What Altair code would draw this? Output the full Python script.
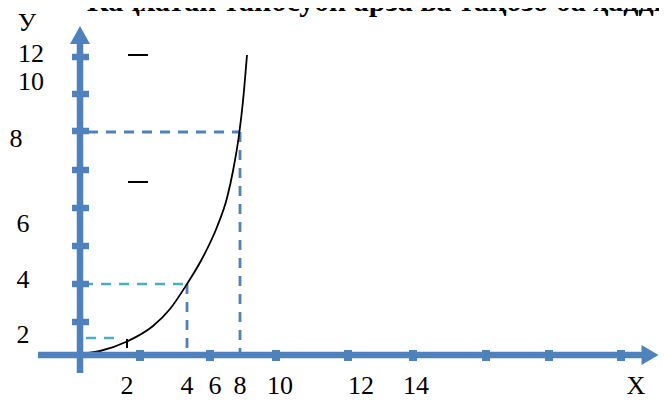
import altair as alt
import pandas as pd

# ---- diagram data (units: px-like offsets from the axis origin) ----
title_text = "Каҷхатаи таносуби арза ва тақозо ба ҳадди ниҳоӣ"

curve_x = [0, 20, 47, 73, 90, 107, 123, 137, 147, 153, 159, 163, 167]
curve_y = [1, 4, 13.5, 29, 46, 71, 98, 128, 157, 184, 220, 254, 300]

ytick_pos = [298, 261, 224, 185, 147, 109, 71, 33]
xtick_pos = [60, 130, 196, 268, 333, 406, 469, 541]

ylab_text = ["12", "10", "8", "6", "4", "2", "У"]
ylab_x = [-49, -49, -64, -57, -57, -57, -53]
ylab_y = [293, 265, 208, 123, 67, 12, 324]

xlab_text = ["2", "4", "6", "8", "10", "12", "14", "X"]
xlab_x = [47, 107, 135, 160, 200, 281, 336, 556]
xlab_y = [-39] * 8

# dashed guides: (x, x2, y, y2)
cyan_x = [6, 3]
cyan_x2 = [35, 107]
cyan_y = [17, 71]

blue_x = [107, 8, 160]
blue_x2 = [107, 160, 160]
blue_y = [71, 223, 223]
blue_y2 = [3, 223, 3]

dash_x = [48, 48, 47]
dash_x2 = [68, 68, 47]
dash_y = [300, 173, 16]
dash_y2 = [300, 173, 7]

BLUE = "#4F81BD"
CYAN = "#4BACC6"
FONT = "Liberation Serif, Times New Roman, serif"

xs = alt.Scale(domain=[-72, 579], nice=False, zero=False)
ys = alt.Scale(domain=[-45, 347], nice=False, zero=False)


def X(f="x"):
    return alt.X(f"{f}:Q", scale=xs, axis=None)


def Y(f="y"):
    return alt.Y(f"{f}:Q", scale=ys, axis=None)


# axes lines
axes_df = pd.DataFrame({"x": [0, -42], "x2": [0, 571], "y": [-18, 0], "y2": [311, 0]})
axes = alt.Chart(axes_df).mark_rule(color=BLUE, strokeWidth=6.5).encode(
    x=X(), x2="x2:Q", y=Y(), y2="y2:Q")

yt_df = pd.DataFrame({"y": ytick_pos, "x": [-8] * len(ytick_pos), "x2": [9] * len(ytick_pos)})
yticks = alt.Chart(yt_df).mark_rule(color=BLUE, strokeWidth=6.5).encode(
    x=X(), x2="x2:Q", y=Y())

xt_df = pd.DataFrame({"x": xtick_pos, "y": [-6] * len(xtick_pos), "y2": [5] * len(xtick_pos)})
xticks = alt.Chart(xt_df).mark_rule(color=BLUE, strokeWidth=8).encode(
    x=X(), y=Y(), y2="y2:Q")

arrow_up = alt.Chart(pd.DataFrame({"x": [0], "y": [320]})).mark_point(
    shape="M-1,0.9L1,0.9L0,-0.9Z", filled=True, color=BLUE, opacity=1, size=400, strokeWidth=0
).encode(x=X(), y=Y())

arrow_right = alt.Chart(pd.DataFrame({"x": [570], "y": [0]})).mark_point(
    shape="M-0.85,-1L0.85,0L-0.85,1Z", filled=True, color=BLUE, opacity=1, size=400, strokeWidth=0
).encode(x=X(), y=Y())

cyan_df = pd.DataFrame({"x": cyan_x, "x2": cyan_x2, "y": cyan_y})
cyan = alt.Chart(cyan_df).mark_rule(color=CYAN, strokeWidth=2.6, strokeDash=[10, 8]).encode(
    x=X(), x2="x2:Q", y=Y())

blue_df = pd.DataFrame({"x": blue_x, "x2": blue_x2, "y": blue_y, "y2": blue_y2})
blue = alt.Chart(blue_df).mark_rule(color=BLUE, strokeWidth=2.8, strokeDash=[10, 8]).encode(
    x=X(), x2="x2:Q", y=Y(), y2="y2:Q")

dash_df = pd.DataFrame({"x": dash_x, "x2": dash_x2, "y": dash_y, "y2": dash_y2})
dashes = alt.Chart(dash_df).mark_rule(color="black", strokeWidth=2).encode(
    x=X(), x2="x2:Q", y=Y(), y2="y2:Q")

curve_df = pd.DataFrame({"x": curve_x, "y": curve_y})
curve = alt.Chart(curve_df).mark_line(color="black", strokeWidth=1.8, interpolate="monotone").encode(
    x=X(), y=Y(), order="x:Q")

ylab_df = pd.DataFrame({"t": ylab_text, "x": ylab_x, "y": ylab_y})
ylabels = alt.Chart(ylab_df).mark_text(
    font=FONT, fontSize=26, color="black", align="center", baseline="alphabetic"
).encode(x=X(), y=Y(), text="t:N")

xlab_df = pd.DataFrame({"t": xlab_text, "x": xlab_x, "y": xlab_y})
xlabels = alt.Chart(xlab_df).mark_text(
    font=FONT, fontSize=26, color="black", align="center", baseline="alphabetic"
).encode(x=X(), y=Y(), text="t:N")

title = alt.Chart(pd.DataFrame({"t": [title_text], "x": [7], "y": [344]})).mark_text(
    font=FONT, fontSize=30, fontWeight="bold", color="black",
    align="left", baseline="alphabetic"
).encode(x=X(), y=Y(), text="t:N")

chart = alt.layer(
    cyan, blue, curve, dashes, axes, yticks, xticks, arrow_up, arrow_right,
    ylabels, xlabels, title
).properties(
    width=651, height=392, padding=0,
    autosize=alt.AutoSizeParams(type="none"),
    background="white",
).configure_view(stroke=None)

chart.save("out.html", embed_options={"renderer": "svg", "actions": False})
